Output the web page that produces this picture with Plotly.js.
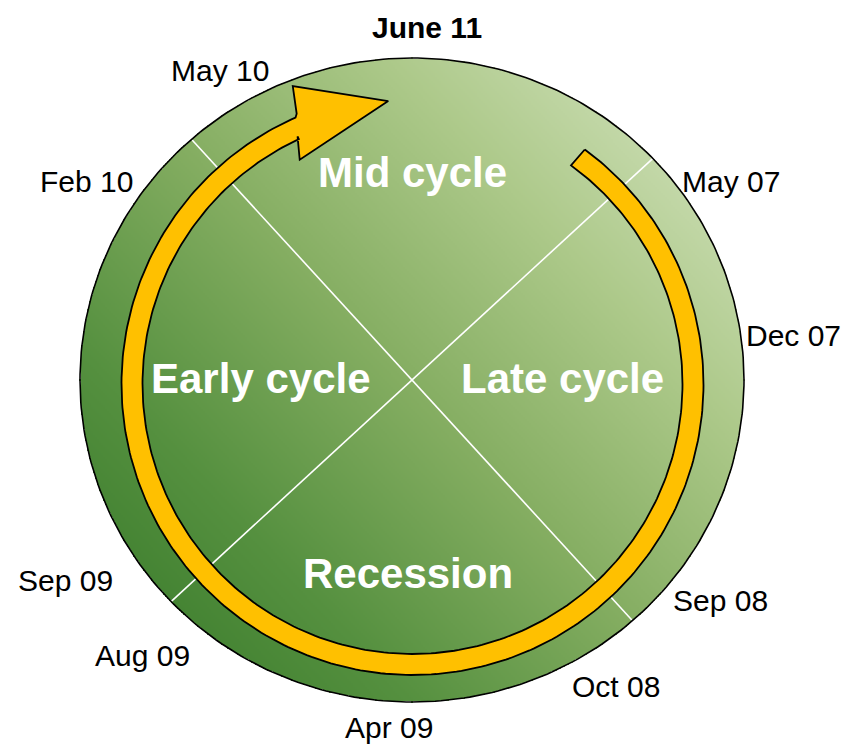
<!DOCTYPE html>
<html>
<head>
<meta charset="utf-8">
<script src="https://cdn.plot.ly/plotly-3.0.1.min.js"></script>
<style>html,body{margin:0;padding:0;background:#fff;}#chart{width:846px;height:747px;}</style>
</head>
<body>
<div id="chart"></div>
<script>
// ---------- DATA ----------
const currentLabel = ['June 11'];
const dateLabels = ['May 10', 'Feb 10', 'May 07', 'Dec 07', 'Sep 08', 'Oct 08', 'Apr 09', 'Aug 09', 'Sep 09'];
const phaseNames = ['Mid cycle', 'Early cycle', 'Late cycle', 'Recession'];

// ---------- LAYOUT GEOMETRY (pixel space) ----------
const W = 846, H = 747;
const disc = {x: 412, y: 380, rx: 332, ry: 322};
const ring = {x: 412.5, y: 384, rin: 270, rout: 291};
const dividerAngles = [42.6, 132.5];
const currentPos = [[427, 27]];
const datePos = [[220, 70], [86, 181], [731, 181], [793, 335], [720, 600], [616, 686], [389, 727], [142, 655], [65, 580]];
const phasePos = [[412, 172], [261, 378], [562, 378], [408, 573]];
const gradA = [100, 680], gradB = [720, 100];

const rad = d => d * Math.PI / 180;
function ellipsePt(a) {
  const c = Math.cos(rad(a)), s = Math.sin(rad(a));
  const r = 1 / Math.sqrt(c * c / (disc.rx * disc.rx) + s * s / (disc.ry * disc.ry));
  return [disc.x + r * c, disc.y - r * s];
}
function ringPt(a, r) { return [ring.x + r * Math.cos(rad(a)), ring.y - r * Math.sin(rad(a))]; }

// gradient disc as heatmap
const step = 2;
const hx = [], hy = [], hz = [];
for (let x = disc.x - disc.rx; x <= disc.x + disc.rx + step; x += step) hx.push(x);
for (let y = disc.y - disc.ry; y <= disc.y + disc.ry + step; y += step) hy.push(y);
const gdx = gradB[0] - gradA[0], gdy = gradB[1] - gradA[1], gl2 = gdx * gdx + gdy * gdy;
for (const y of hy) {
  const row = [];
  for (const x of hx) {
    const ex = (x - disc.x) / disc.rx, ey = (y - disc.y) / disc.ry;
    if (ex * ex + ey * ey <= 1.0) {
      row.push(((x - gradA[0]) * gdx + (y - gradA[1]) * gdy) / gl2);
    } else row.push(null);
  }
  hz.push(row);
}

const traces = [];
traces.push({
  type: 'heatmap', x: hx, y: hy, z: hz, zmin: 0, zmax: 1, showscale: false, hoverinfo: 'skip',
  colorscale: [[0, '#357828'], [0.25, '#55903f'], [0.5, '#84ad61'], [0.75, '#adc98a'], [1, '#d2e2bd']]
});

// divider lines
for (const a of dividerAngles) {
  const p1 = ellipsePt(a), p2 = ellipsePt(a + 180);
  traces.push({type: 'scatter', mode: 'lines', x: [p1[0], p2[0]], y: [p1[1], p2[1]],
    line: {color: '#ffffff', width: 1.6}, hoverinfo: 'skip', showlegend: false});
}

// outline
const ox = [], oy = [];
for (let a = 0; a <= 360; a += 1) { ox.push(disc.x + disc.rx * Math.cos(rad(a))); oy.push(disc.y - disc.ry * Math.sin(rad(a))); }
traces.push({type: 'scatter', mode: 'lines', x: ox, y: oy, line: {color: '#000', width: 1.6}, hoverinfo: 'skip', showlegend: false});

// cycle arrow
const ax = [], ay = [];
const startOut = 53.7, endOut = 113.2 - 360, startIn = 54.05, endIn = 114.9 - 360;
for (let a = startOut; a >= endOut; a -= 1) { const p = ringPt(a, ring.rout); ax.push(p[0]); ay.push(p[1]); }
{ const p = ringPt(endOut, ring.rout + 3); ax.push(p[0]); ay.push(p[1]); }
for (const [a, r] of [[111.9, 321], [94.9, 284], [116.7, 251]]) { const p = ringPt(a, r); ax.push(p[0]); ay.push(p[1]); }
{ const p = ringPt(endIn, ring.rin + 3); ax.push(p[0]); ay.push(p[1]); }
for (let a = endIn; a <= startIn; a += 1) { const p = ringPt(a, ring.rin); ax.push(p[0]); ay.push(p[1]); }
{ const p = ringPt(startIn, ring.rin); ax.push(p[0]); ay.push(p[1]); }
ax.push(ax[0]); ay.push(ay[0]);
traces.push({type: 'scatter', mode: 'lines', x: ax, y: ay, fill: 'toself', fillcolor: '#ffc000',
  line: {color: '#000', width: 1.8}, hoverinfo: 'skip', showlegend: false});

const font = 'Liberation Sans, Arial, sans-serif';
const annotations = [];
currentLabel.forEach((t, i) => annotations.push({x: currentPos[i][0], y: currentPos[i][1], text: '<b>' + t + '</b>',
  showarrow: false, xanchor: 'center', yanchor: 'middle', font: {family: font, size: 30, color: '#000'}}));
dateLabels.forEach((t, i) => annotations.push({x: datePos[i][0], y: datePos[i][1], text: t,
  showarrow: false, xanchor: 'center', yanchor: 'middle', borderpad: 0, font: {family: font, size: 30, color: '#000'}}));
phaseNames.forEach((t, i) => annotations.push({x: phasePos[i][0], y: phasePos[i][1], text: '<b>' + t + '</b>',
  showarrow: false, xanchor: 'center', yanchor: 'middle', font: {family: font, size: 42, color: '#fff'}}));

const layout = {
  width: W, height: H, margin: {l: 0, r: 0, t: 0, b: 0},
  paper_bgcolor: '#fff', plot_bgcolor: '#fff', showlegend: false,
  xaxis: {range: [0, W], visible: false, fixedrange: true},
  yaxis: {range: [H, 0], visible: false, fixedrange: true},
  annotations: annotations
};
Plotly.newPlot('chart', traces, layout, {staticPlot: true, displayModeBar: false});
</script>
</body>
</html>
